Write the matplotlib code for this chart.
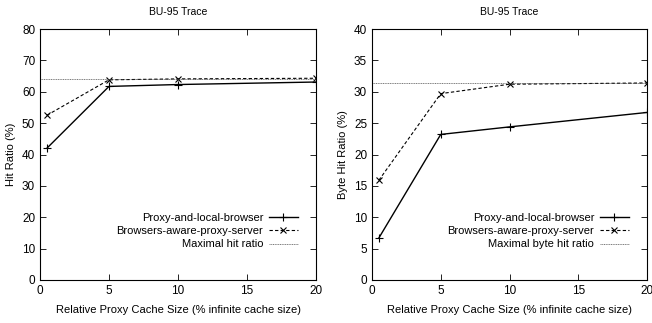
import matplotlib
matplotlib.use("Agg")
import matplotlib.pyplot as plt

plt.rcParams['font.family'] = ['Liberation Sans Narrow', 'Liberation Sans', 'DejaVu Sans']
plt.rcParams['font.size'] = 7.5

# cache sizes (% of infinite cache size)
cache_size = [0.5, 5, 10, 20]

# hit ratio (%)
hit_local = [42.0, 61.7, 62.3, 63.1]
hit_aware = [52.5, 63.8, 64.1, 64.3]
hit_max = 64.2

# byte hit ratio (%)
byte_local = [6.7, 23.2, 24.4, 26.7]
byte_aware = [15.9, 29.7, 31.2, 31.4]
byte_max = 31.4

fig = plt.figure(figsize=(6.52, 3.23), dpi=100)
ax1 = fig.add_axes([40 / 652, 1 - 280 / 323, 276 / 652, 251 / 323])
ax2 = fig.add_axes([372 / 652, 1 - 280 / 323, 275 / 652, 251 / 323])


def draw(ax, local, aware, maxval, ylim, yticks, ylabel, maxlabel):
    ax.plot(cache_size, local, color='black', lw=1.0, marker='+', ms=6, mew=0.8,
            label='Proxy-and-local-browser')
    ax.plot(cache_size, aware, color='black', lw=0.8, ls=(0, (3, 2)), marker='x', ms=4.5, mew=0.8,
            label='Browsers-aware-proxy-server')
    ax.plot([0, 20], [maxval, maxval], color='#444444', lw=0.5, ls=(0, (1.5, 1)),
            label=maxlabel)
    ax.set_xlim(0, 20)
    ax.set_ylim(*ylim)
    ax.set_xticks([0, 5, 10, 15, 20])
    ax.set_yticks(yticks)
    ax.tick_params(direction='in', top=True, right=True, length=4, width=0.6, labelsize=8.5)
    for s in ax.spines.values():
        s.set_linewidth(0.8)
    ax.set_title('BU-95 Trace', fontsize=7.5, pad=10)
    ax.set_xlabel('Relative Proxy Cache Size (% infinite cache size)', fontsize=8, labelpad=6)
    ax.set_ylabel(ylabel, fontsize=8, labelpad=4)
    leg = ax.legend(loc='lower right', markerfirst=False, frameon=False, fontsize=8,
                    handlelength=2.6, handletextpad=0.5, labelspacing=0.3,
                    bbox_to_anchor=(0.97, 0.082))
    for t in leg.get_texts():
        t.set_ha('right')


draw(ax1, hit_local, hit_aware, hit_max, (0, 80), range(0, 81, 10), 'Hit Ratio (%)', 'Maximal hit ratio')
draw(ax2, byte_local, byte_aware, byte_max, (0, 40), range(0, 41, 5), 'Byte Hit Ratio (%)',
     'Maximal byte hit ratio')

fig.savefig('out.png', dpi=100)
